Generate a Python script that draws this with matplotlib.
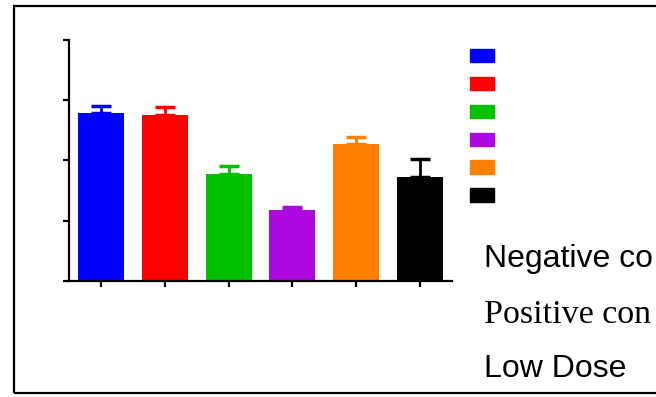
import matplotlib
matplotlib.use('Agg')
import matplotlib.pyplot as plt
from matplotlib.patches import Rectangle, Patch

# bar data (arbitrary units)
means = [2.78, 2.75, 1.77, 1.17, 2.27, 1.73]
errs = [0.13, 0.14, 0.14, 0.06, 0.12, 0.29]
colors = ['#0000FF', '#FF0000', '#00C000', '#AE08E0', '#FF8000', '#000000']
yticks = [0, 1, 2, 3, 4]
texts = ['Negative co', 'Positive con', 'Low Dose']

fig = plt.figure(figsize=(6.56, 3.97), dpi=100)
ax = fig.add_axes([69 / 656, 1 - 280.7 / 397, (452 - 69) / 656, (280.7 - 40) / 397])

x = list(range(len(means)))
ax.bar(x, means, width=0.72, color=colors, zorder=2)
for xi, m, e, c in zip(x, means, errs, colors):
    ax.errorbar([xi], [m], yerr=[[0], [e]], fmt='none', ecolor=c,
                elinewidth=2, capsize=7.5, capthick=2.5, zorder=1)

ax.set_xlim(-0.5, 5.5)
ax.set_ylim(0, 4)
ax.set_xticks(x)
ax.set_xticklabels([])
ax.set_yticks(yticks)
ax.set_yticklabels([])
for s in ['top', 'right']:
    ax.spines[s].set_visible(False)
for s in ['left', 'bottom']:
    ax.spines[s].set_linewidth(1.6)
ax.tick_params(width=1.6, length=4.5, direction='out')

# legend squares with no labels
handles = [Patch(color=c) for c in colors]
fig.legend(handles, [''] * len(colors), loc='upper left',
           bbox_to_anchor=(470 / 656, 1 - 49 / 397), frameon=False,
           fontsize=10, handlelength=1.75, handleheight=1.1,
           labelspacing=0.97, borderpad=0, borderaxespad=0, handletextpad=0)

# frame around the whole thing
fig.patches.append(Rectangle((14 / 656, 1 - 393 / 397), 1.0, (393 - 6) / 397,
                             transform=fig.transFigure, fill=False,
                             lw=1.6, ec='black'))

sans = ['Liberation Sans', 'DejaVu Sans']
fig.text(484 / 656, 1 - 267 / 397, texts[0], fontsize=23, family=sans,
         va='baseline')
fig.text(484 / 656, 1 - 323 / 397, texts[1], fontsize=24.5,
         family=['Liberation Serif', 'DejaVu Serif'], va='baseline')
fig.text(484 / 656, 1 - 377 / 397, texts[2], fontsize=23, family=sans,
         va='baseline')

fig.savefig('out.png', dpi=100)
